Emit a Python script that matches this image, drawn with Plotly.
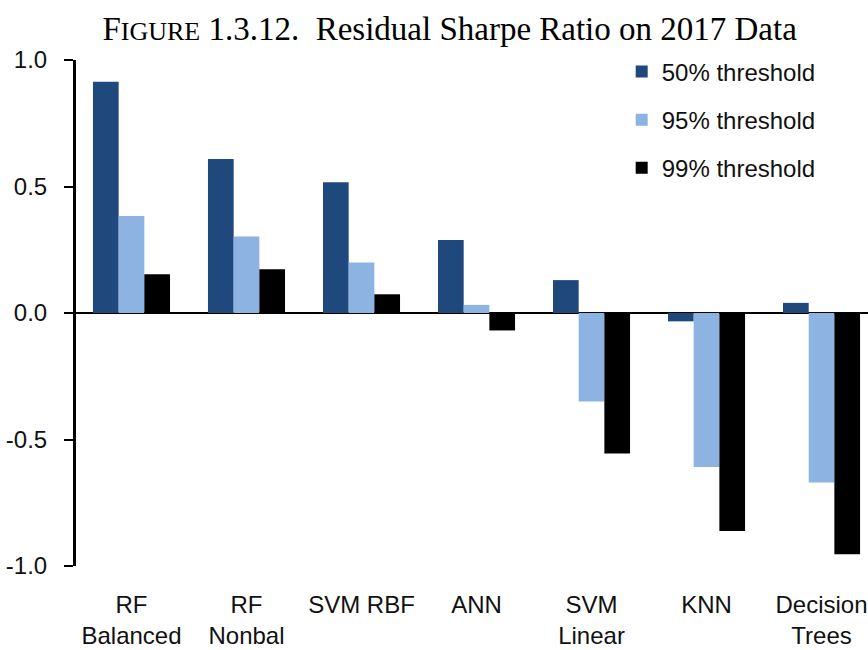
import plotly.graph_objects as go

categories = ["RF<br>Balanced", "RF<br>Nonbal", "SVM RBF", "ANN", "SVM<br>Linear", "KNN", "Decision<br>Trees"]
series_names = ["50% threshold", "95% threshold", "99% threshold"]
vals_50 = [0.914, 0.609, 0.517, 0.289, 0.13, -0.033, 0.04]
vals_95 = [0.383, 0.302, 0.20, 0.032, -0.35, -0.609, -0.67]
vals_99 = [0.153, 0.173, 0.074, -0.069, -0.555, -0.862, -0.954]
colors = ["#1F497D", "#8DB3E2", "#000000"]
tick_vals = [-1.0, -0.5, 0.0, 0.5, 1.0]
tick_text = ["-1.0", "-0.5", "0.0", "0.5", "1.0"]

fig = go.Figure()
for name, vals, col in zip(series_names, [vals_50, vals_95, vals_99], colors):
    fig.add_trace(go.Bar(x=list(range(len(categories))), y=vals, name=name,
                         marker=dict(color=col, line=dict(width=0)),
                         legendgroup=name))

fig.update_layout(
    width=868, height=650,
    paper_bgcolor="white", plot_bgcolor="white",
    margin=dict(l=76, r=0, t=60, b=84),
    barmode="group", bargap=0.33, bargroupgap=0,
    font=dict(family="Liberation Sans, Arial, sans-serif", size=24, color="#111"),
    title=dict(text="F<span style='font-size:26px'>IGURE</span> 1.3.12.  Residual Sharpe Ratio on 2017 Data",
               x=0.518, xanchor="center", y=1 - 28/650, yanchor="middle", yref="container",
               font=dict(family="Liberation Serif, Times New Roman, serif", size=33, color="#000")),
    showlegend=True,
    legend=dict(x=0.689, y=1.021, xanchor="left", yanchor="top", bgcolor="rgba(0,0,0,0)",
                font=dict(size=24), tracegroupgap=14, itemwidth=30),
    xaxis=dict(tickmode="array", tickvals=list(range(len(categories))), ticktext=categories,
               range=[-0.4826, 6.404], showline=False, showgrid=False, zeroline=False,
               ticks="", ticklabelstandoff=22, automargin=False),
    yaxis=dict(range=[-1.0, 1.0], tickvals=tick_vals, ticktext=tick_text,
               showgrid=False, zeroline=True, zerolinecolor="#000", zerolinewidth=2,
               showline=True, linecolor="#000", linewidth=3,
               ticks="outside", ticklen=9, tickwidth=2, tickcolor="#000",
               ticklabelstandoff=12, automargin=False),
)

fig.write_html("out.html", config={"displayModeBar": False},
               post_script="document.body.style.margin='0';document.body.style.overflow='hidden';")
